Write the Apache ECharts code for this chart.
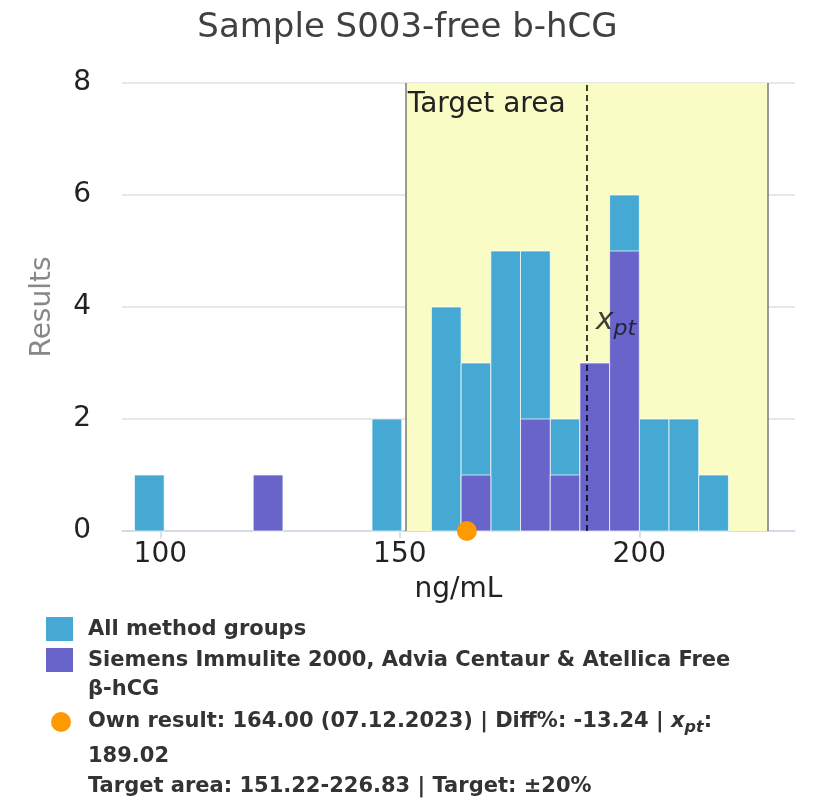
<!DOCTYPE html>
<html>
<head>
<meta charset="utf-8">
<title>Sample S003-free b-hCG</title>
<script src="https://cdn.jsdelivr.net/npm/echarts@6/dist/echarts.min.js"></script>
<style>
  html, body { margin: 0; padding: 0; background: #fff; }
  #chart { width: 815px; height: 810px; }
</style>
</head>
<body>
<div id="chart"></div>
<script>
/* -------------------------------------------------------------------------- */
/*                         Sample S003 - free b-hCG                           */
/* -------------------------------------------------------------------------- */

// histogram bins (ng/mL), each bin is BIN_WIDTH wide
const BIN_STARTS = [94.6, 119.4, 144.2, 156.6, 162.8, 169.0, 175.2, 181.4, 187.6, 193.8, 200.0, 206.2, 212.4];
const BIN_WIDTH = 6.2;
const ALL_COUNTS = [1, 1, 2, 4, 3, 5, 5, 2, 3, 6, 2, 2, 1];
const GROUP_COUNTS = [0, 1, 0, 0, 1, 0, 2, 1, 3, 5, 0, 0, 0];

const X_TICKS = [100, 150, 200];
const Y_TICKS = [0, 2, 4, 6, 8];

const OWN_RESULT = [164.0];
const OWN_DATE = '07.12.2023';
const DIFF_PCT = -13.24;
const XPT = [189.02];
const TARGET_AREA = [151.22, 226.83];
const TARGET_PCT = 20;

const SERIES_NAMES = [
  'All method groups',
  'Siemens Immulite 2000, Advia Centaur & Atellica Free β-hCG',
  'Own result',
];

const COLORS = {
  all: '#45a9d4',
  group: '#6964c9',
  own: '#ff9900',
  target: '#fafcc6',
};

const FONT = 'DejaVu Sans';

const toBins = (counts) =>
  BIN_STARTS.map((s, i) => [s, s + BIN_WIDTH, counts[i]]).filter((d) => d[2] > 0);

const renderBin = (color) => (params, api) => {
  const p0 = api.coord([api.value(0), api.value(2)]);
  const p1 = api.coord([api.value(1), 0]);
  return {
    type: 'rect',
    shape: { x: p0[0], y: p0[1], width: p1[0] - p0[0], height: p1[1] - p0[1] },
    style: { fill: color, stroke: 'rgba(255,255,255,0.7)', lineWidth: 1 },
  };
};

const chart = echarts.init(document.getElementById('chart'), null, { renderer: 'canvas' });

const legendText = { fontFamily: FONT, fontWeight: 'bold', fontSize: 21, fill: '#333', verticalAlign: 'middle' };

const option = {
  backgroundColor: '#fff',
  animation: false,
  title: {
    text: 'Sample S003-free b-hCG',
    left: 'center',
    top: 6,
    textStyle: { fontFamily: FONT, fontSize: 34, fontWeight: 'normal', color: '#404040' },
  },
  grid: { left: 122, right: 20, top: 83, bottom: 279, containLabel: false },
  xAxis: {
    type: 'value',
    min: 92,
    max: 232.5,
    name: 'ng/mL',
    nameLocation: 'middle',
    nameGap: 45,
    nameTextStyle: { fontFamily: FONT, fontSize: 28, color: '#222' },
    axisLine: { show: true, lineStyle: { color: '#ccd6eb', width: 1.5 } },
    axisTick: { show: true, length: 7, customValues: X_TICKS, lineStyle: { color: '#ccd6eb', width: 1.5 } },
    axisLabel: { customValues: X_TICKS, margin: 10, fontFamily: FONT, fontSize: 28, color: '#222' },
    splitLine: { show: false },
  },
  yAxis: {
    type: 'value',
    min: Y_TICKS[0],
    max: Y_TICKS[Y_TICKS.length - 1],
    interval: 2,
    name: 'Results',
    nameLocation: 'middle',
    nameGap: 65,
    nameTextStyle: { fontFamily: FONT, fontSize: 28, color: '#888' },
    axisLine: { show: false },
    axisTick: { show: false },
    axisLabel: { margin: 31, fontFamily: FONT, fontSize: 28, color: '#222' },
    splitLine: { lineStyle: { color: '#e0e0e0', width: 1.5 } },
  },
  series: [
    {
      // target area background + borders
      type: 'line',
      data: [],
      z: 1,
      silent: true,
      markArea: {
        silent: true,
        itemStyle: { color: COLORS.target },
        label: {
          show: true,
          position: 'insideTopLeft',
          distance: 8,
          offset: [-6, 0],
          fontFamily: FONT,
          fontSize: 28,
          color: '#222',
        },
        data: [[
          { name: 'Target area', xAxis: TARGET_AREA[0], yAxis: Y_TICKS[Y_TICKS.length - 1] },
          { xAxis: TARGET_AREA[1], yAxis: Y_TICKS[0] },
        ]],
      },
      markLine: {
        silent: true,
        symbol: 'none',
        label: { show: false },
        lineStyle: { color: '#7a7a7a', width: 1.5, type: 'solid' },
        data: TARGET_AREA.map((v) => ({ xAxis: v })),
      },
    },
    {
      name: SERIES_NAMES[0],
      type: 'custom',
      z: 2,
      renderItem: renderBin(COLORS.all),
      encode: { x: [0, 1], y: 2 },
      data: toBins(ALL_COUNTS),
    },
    {
      name: SERIES_NAMES[1],
      type: 'custom',
      z: 3,
      renderItem: renderBin(COLORS.group),
      encode: { x: [0, 1], y: 2 },
      data: toBins(GROUP_COUNTS),
    },
    {
      // x_pt marker line and its label
      type: 'scatter',
      z: 5,
      symbolSize: 0,
      silent: true,
      data: [[XPT[0], 3.75]],
      label: {
        show: true,
        position: 'right',
        distance: 9,
        formatter: '{x|x}{pt|pt}',
        rich: {
          x: { fontFamily: FONT, fontStyle: 'italic', fontSize: 30, color: '#111' },
          pt: { fontFamily: FONT, fontStyle: 'italic', fontSize: 22, color: '#111', padding: [16, 0, 0, 0] },
        },
      },
      markLine: {
        silent: true,
        symbol: 'none',
        label: { show: false },
        lineStyle: { color: '#000', width: 1.5, type: [6, 4] },
        data: [{ xAxis: XPT[0] }],
      },
    },
    {
      name: SERIES_NAMES[2],
      type: 'scatter',
      z: 10,
      clip: false,
      symbol: 'circle',
      symbolSize: 20,
      itemStyle: { color: COLORS.own, opacity: 1 },
      data: OWN_RESULT.map((v) => [v, 0]),
    },
  ],
  graphic: [
    { type: 'rect', left: 46, top: 617, shape: { width: 27, height: 24 }, style: { fill: COLORS.all } },
    { type: 'text', x: 88, y: 630, style: Object.assign({ text: SERIES_NAMES[0] }, legendText) },
    { type: 'rect', left: 46, top: 648, shape: { width: 27, height: 24 }, style: { fill: COLORS.group } },
    { type: 'text', x: 88, y: 661, style: Object.assign({ text: 'Siemens Immulite 2000, Advia Centaur & Atellica Free' }, legendText) },
    { type: 'text', x: 88, y: 690, style: Object.assign({ text: 'β-hCG' }, legendText) },
    { type: 'circle', shape: { cx: 61, cy: 722, r: 10 }, style: { fill: COLORS.own } },
    {
      type: 'text',
      x: 88,
      y: 722,
      style: Object.assign({
        text: `Own result: ${OWN_RESULT[0].toFixed(2)} (${OWN_DATE}) | Diff%: ${DIFF_PCT.toFixed(2)} | {x|x}{pt|pt}:`,
        rich: {
          x: { fontFamily: FONT, fontStyle: 'italic', fontWeight: 'bold', fontSize: 21, fill: '#333' },
          pt: { fontFamily: FONT, fontStyle: 'italic', fontWeight: 'bold', fontSize: 16, fill: '#333', padding: [12, 0, 0, 0] },
        },
      }, legendText),
    },
    { type: 'text', x: 88, y: 757, style: Object.assign({ text: XPT[0].toFixed(2) }, legendText) },
    {
      type: 'text',
      x: 88,
      y: 787,
      style: Object.assign({
        text: `Target area: ${TARGET_AREA[0].toFixed(2)}-${TARGET_AREA[1].toFixed(2)} | Target: ±${TARGET_PCT}%`,
      }, legendText),
    },
  ],
};

chart.setOption(option);
</script>
</body>
</html>
